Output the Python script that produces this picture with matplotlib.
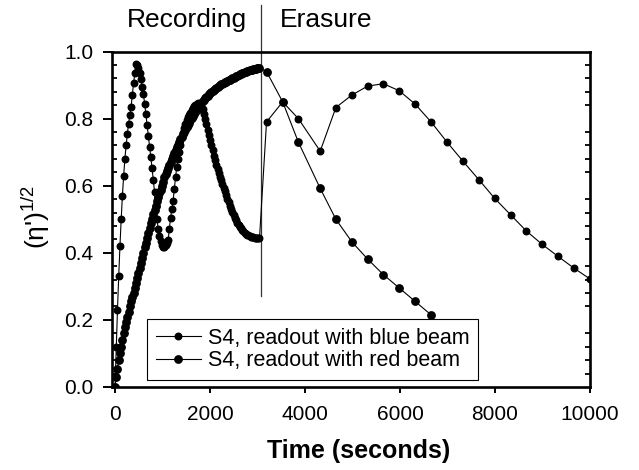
import matplotlib
matplotlib.use("Agg")
import matplotlib.pyplot as plt
from matplotlib.ticker import MultipleLocator, FormatStrFormatter

plt.rcParams['font.family'] = ['Liberation Sans', 'DejaVu Sans']
plt.rcParams['mathtext.fontset'] = 'custom'
plt.rcParams['mathtext.rm'] = 'Liberation Sans'
plt.rcParams['mathtext.it'] = 'Liberation Sans:italic'

# Recording phase: readings taken every 26 s
record_times = list(range(0, 3043, 26))

blue_record = [
    0.000, 0.12, 0.23, 0.33, 0.42, 0.50, 0.57, 0.63, 0.68, 0.72,
    0.755, 0.785, 0.81, 0.835, 0.87, 0.905, 0.935, 0.963, 0.96, 0.95,
    0.937, 0.918, 0.895, 0.872, 0.845, 0.813, 0.78, 0.748, 0.716, 0.685,
    0.652, 0.618, 0.582, 0.54, 0.50, 0.47, 0.45, 0.435, 0.424, 0.418,
    0.418, 0.422, 0.428, 0.437, 0.47, 0.505, 0.53, 0.553, 0.59, 0.625,
    0.655, 0.68, 0.70, 0.72, 0.745, 0.758, 0.772, 0.785, 0.796, 0.804,
    0.811, 0.818, 0.825, 0.832, 0.837, 0.841, 0.844, 0.846, 0.845, 0.841,
    0.835, 0.828, 0.815, 0.80, 0.783, 0.766, 0.75, 0.735, 0.72, 0.705,
    0.69, 0.676, 0.662, 0.65, 0.638, 0.627, 0.616, 0.605, 0.594, 0.583,
    0.572, 0.561, 0.55, 0.539, 0.53, 0.521, 0.512, 0.504, 0.497, 0.49,
    0.484, 0.478, 0.473, 0.468, 0.464, 0.46, 0.457, 0.454, 0.452, 0.45,
    0.448, 0.447, 0.446, 0.445, 0.444, 0.444, 0.443, 0.443,
]

red_record = [
    0.000, 0.03, 0.055, 0.08, 0.10, 0.12, 0.14, 0.16, 0.178, 0.195,
    0.21, 0.225, 0.24, 0.255, 0.268, 0.281, 0.295, 0.31, 0.325, 0.341,
    0.356, 0.371, 0.386, 0.40, 0.416, 0.43, 0.445, 0.46, 0.474, 0.488,
    0.502, 0.515, 0.528, 0.541, 0.553, 0.565, 0.577, 0.588, 0.599, 0.61,
    0.625, 0.635, 0.645, 0.654, 0.663, 0.672, 0.681, 0.69, 0.698, 0.706,
    0.714, 0.722, 0.73, 0.738, 0.746, 0.753, 0.76, 0.767, 0.774, 0.781,
    0.788, 0.795, 0.802, 0.808, 0.814, 0.82, 0.826, 0.832, 0.837, 0.842,
    0.847, 0.852, 0.856, 0.86, 0.864, 0.868, 0.872, 0.876, 0.879, 0.882,
    0.885, 0.888, 0.891, 0.894, 0.897, 0.90, 0.902, 0.904, 0.906, 0.908,
    0.91, 0.912, 0.914, 0.916, 0.918, 0.92, 0.922, 0.924, 0.926, 0.928,
    0.93, 0.932, 0.933, 0.935, 0.936, 0.938, 0.939, 0.941, 0.942, 0.944,
    0.945, 0.946, 0.947, 0.948, 0.949, 0.95, 0.951, 0.952,
]

# Erasure phase readings
erase_times = [3190, 3530, 3860, 4320, 4650, 4985, 5320, 5650, 5985, 6320,
               6655, 6990, 7325, 7660, 7995, 8330, 8660, 8995, 9330, 9665,
               10000]
blue_erase = [0.790, 0.850, 0.800, 0.703, 0.833, 0.870, 0.897, 0.904, 0.883,
              0.843, 0.790, 0.730, 0.673, 0.618, 0.562, 0.513, 0.465, 0.425,
              0.389, 0.354, 0.322]
red_erase = [0.940, 0.850, 0.730, 0.592, 0.500, 0.433, 0.381, 0.335, 0.295,
             0.255, 0.215]

switch_time = 3070
series_labels = ["S4, readout with blue beam", "S4, readout with red beam"]

fig = plt.figure(figsize=(6.39, 4.70), dpi=100)
ax = fig.add_axes([0.1753, 0.1766, 0.748, 0.7138])

blue_t = record_times + erase_times
blue_v = blue_record + blue_erase
red_t = record_times + erase_times[:len(red_erase)]
red_v = red_record + red_erase

ax.plot(blue_t, blue_v, color='black', lw=0.8, marker='o', ms=4.7,
        mec='black', mfc='black', label=series_labels[0], zorder=3)
ax.plot(red_t, red_v, color='black', lw=0.8, marker='o', ms=5.3,
        mec='black', mfc='black', label=series_labels[1], zorder=3)

# boundary between recording and erasure, extending above the frame
ax.axvline(switch_time, ymin=0.27, ymax=1.14, color='#333333', lw=0.9,
           clip_on=False, zorder=2)

ax.set_xlim(-63, 10000)
ax.set_ylim(0, 1.0)
ax.xaxis.set_major_locator(MultipleLocator(2000))
ax.yaxis.set_major_locator(MultipleLocator(0.2))
ax.yaxis.set_minor_locator(MultipleLocator(0.04))
ax.yaxis.set_major_formatter(FormatStrFormatter('%.1f'))

ax.tick_params(axis='x', which='major', direction='out', length=4,
               width=1.4, labelsize=15, pad=9)
ax.tick_params(axis='y', which='major', direction='out', length=6.5,
               width=1.4, labelsize=15, pad=7, right=False)
ax.tick_params(axis='y', which='minor', direction='in', length=3.5,
               width=1.3, left=True, right=True)
ax.tick_params(axis='x', which='both', top=False)

for side in ['left', 'right', 'top', 'bottom']:
    ax.spines[side].set_linewidth(1.9)

ax.set_xlabel("Time (seconds)", fontsize=18, fontweight='bold')
ax.xaxis.set_label_coords(0.515, -0.155)
ax.set_ylabel("(η')$^{1/2}$", fontsize=19)
ax.yaxis.set_label_coords(-0.125, 0.507)

fig.text(247 / 639, 1 - 20 / 470, "Recording", fontsize=19,
         ha='right', va='center')
fig.text(280 / 639, 1 - 20 / 470, "Erasure", fontsize=19,
         ha='left', va='center')

leg = ax.legend(loc='lower left', bbox_to_anchor=(0.073, 0.021),
                borderaxespad=0, fancybox=False, edgecolor='black',
                framealpha=1, fontsize=15.5, handlelength=2.1,
                borderpad=0.4, labelspacing=0.08, handletextpad=0.33)
leg.get_frame().set_linewidth(0.8)
leg.set_zorder(5)

fig.savefig("out.png", dpi=100)
